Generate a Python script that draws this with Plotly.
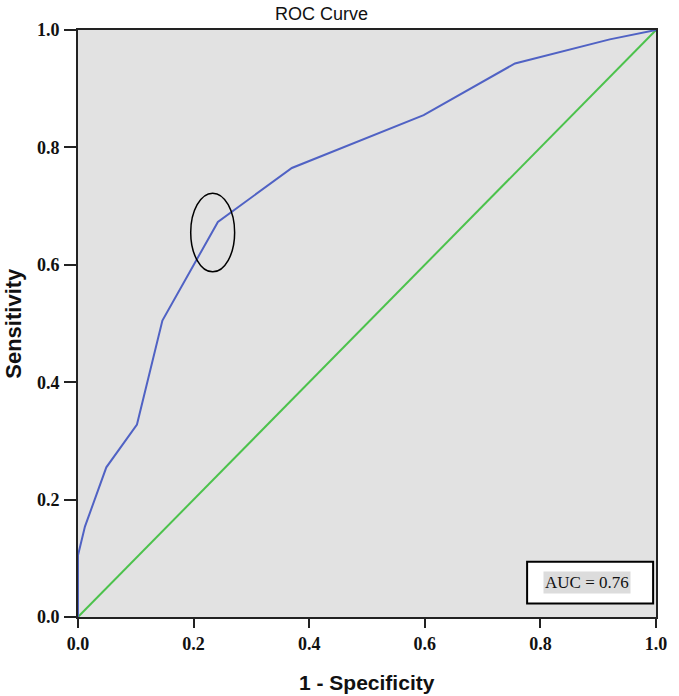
import plotly.graph_objects as go

# ROC curve data (1 - specificity, sensitivity)
fpr = [0.0, 0.0, 0.012, 0.049, 0.102, 0.146, 0.242, 0.37, 0.598, 0.756, 0.92, 1.0]
tpr = [0.0, 0.105, 0.154, 0.255, 0.328, 0.505, 0.673, 0.765, 0.855, 0.943, 0.984, 1.0]
ref_x = [0.0, 1.0]
ref_y = [0.0, 1.0]
tick_vals = [0.0, 0.2, 0.4, 0.6, 0.8, 1.0]
tick_text = ["0.0", "0.2", "0.4", "0.6", "0.8", "1.0"]
auc_label = "AUC = 0.76"
title_text = "ROC Curve"
x_title = "1 - Specificity"
y_title = "Sensitivity"

SANS = "Liberation Sans, Arial, sans-serif"
SERIF = "Liberation Serif, Times New Roman, serif"

fig = go.Figure()
fig.add_trace(go.Scatter(x=ref_x, y=ref_y, mode="lines",
                         line=dict(color="#4cc24c", width=2), showlegend=False))
fig.add_trace(go.Scatter(x=fpr, y=tpr, mode="lines",
                         line=dict(color="#5062c4", width=2), showlegend=False))

axis_common = dict(range=[0, 1], tickvals=tick_vals, ticktext=tick_text,
                   showgrid=False, zeroline=False, showline=True, linecolor="#222",
                   linewidth=2, mirror=True, ticks="outside", tickcolor="#222",
                   tickwidth=2,
                   tickfont=dict(family=SERIF, size=18, color="#111", weight="bold"))

fig.update_xaxes(**axis_common, ticklen=9)
fig.update_yaxes(**axis_common, ticklen=12, ticklabelstandoff=1)

# axis titles
fig.add_annotation(xref="paper", yref="paper", x=(373 - 78) / 589, y=-(682 - 617) / 587,
                   xanchor="center", yanchor="middle", text="<b>" + x_title + "</b>",
                   showarrow=False, font=dict(family=SANS, size=21, color="#111"))
fig.add_annotation(xref="paper", yref="paper", x=-(78 - 12) / 589, y=0.5,
                   xanchor="center", yanchor="middle", text="<b>" + y_title + "</b>",
                   textangle=-90, showarrow=False,
                   font=dict(family=SANS, size=22, color="#111"))
# title
fig.add_annotation(xref="paper", yref="paper", x=(326 - 78) / 589, y=1 + (30 - 14) / 587,
                   xanchor="center", yanchor="middle", text=title_text, showarrow=False,
                   font=dict(family=SANS, size=18, color="#111"))

# highlight ellipse around the chosen cut-off
fig.add_shape(type="circle", xref="x", yref="y", x0=0.195, x1=0.271, y0=0.588, y1=0.722,
              line=dict(color="black", width=1.5))

# AUC box
fig.add_shape(type="rect", xref="x", yref="y", x0=0.777, x1=0.995, y0=0.023, y1=0.094,
              fillcolor="white", line=dict(color="black", width=2))
fig.add_annotation(x=0.805, y=0.059, xref="x", yref="y", xanchor="left", yanchor="middle",
                   text=auc_label, showarrow=False, bgcolor="#dcdcdc",
                   font=dict(family=SERIF, size=17, color="#111"), borderpad=1)

fig.update_layout(width=679, height=696,
                  margin=dict(l=78, r=12, t=30, b=79),
                  plot_bgcolor="#e2e2e2", paper_bgcolor="white")

fig.write_html("out.html", config={"displayModeBar": False},
               post_script="document.body.style.margin='0';document.body.style.overflow='hidden';")
